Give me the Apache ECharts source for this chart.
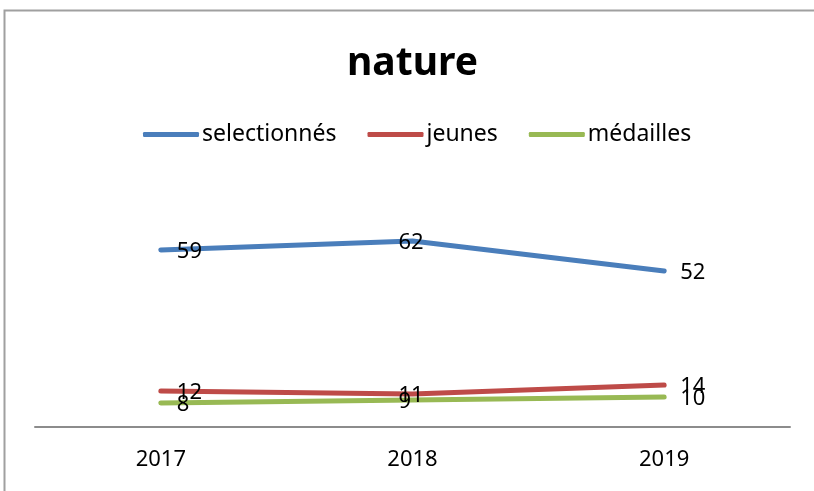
<!DOCTYPE html>
<html>
<head>
<meta charset="utf-8">
<script src="https://cdn.jsdelivr.net/npm/echarts@6/dist/echarts.min.js"></script>
<style>
  html, body { margin: 0; padding: 0; background: #ffffff; }
  #chart { width: 814px; height: 491px; }
</style>
</head>
<body>
<div id="chart"></div>
<script>
// Yearly counts for the "nature" category
const years = ['2017', '2018', '2019'];
const selectionnes = [59, 62, 52];
const jeunes = [12, 11, 14];
const medailles = [8, 9, 10];

const FONT = '"Noto Sans", "Open Sans", sans-serif';

// Horizontal nudge of each value label relative to its point (left-aligned text)
const labelDx = [16, -14, 16];

function withLabels(values) {
  return values.map((v, i) => ({
    value: v,
    label: { offset: [labelDx[i], 2] }
  }));
}

function lineSeries(name, values, color) {
  return {
    name: name,
    type: 'line',
    data: withLabels(values),
    symbol: 'circle',
    symbolSize: 4,
    showSymbol: true,
    itemStyle: { color: color },
    lineStyle: { color: color, width: 5, cap: 'round', join: 'round' },
    emphasis: { disabled: true },
    label: {
      show: true,
      position: 'inside',
      align: 'left',
      verticalAlign: 'middle',
      color: '#000000',
      fontFamily: FONT,
      fontSize: 22
    },
    z: 2
  };
}

const chart = echarts.init(document.getElementById('chart'), null, { renderer: 'canvas' });

chart.setOption({
  animation: false,
  backgroundColor: '#ffffff',
  title: {
    text: 'nature',
    left: 342,
    top: 39,
    textStyle: { fontFamily: FONT, fontWeight: 'bold', fontSize: 39, color: '#000000' }
  },
  legend: {
    top: 117,
    left: 138,
    itemWidth: 56,
    itemHeight: 5,
    itemGap: 31,
    icon: 'roundRect',
    textStyle: { fontFamily: FONT, fontSize: 23, color: '#000000', lineHeight: 25, padding: [0, 0, 0, -2] },
    data: ['selectionnés', 'jeunes', 'médailles']
  },
  grid: { left: 35, right: 24, top: 157, bottom: 64 },
  xAxis: {
    type: 'category',
    data: years,
    boundaryGap: true,
    axisLine: { show: true, lineStyle: { color: '#8c8c8c', width: 2 } },
    axisTick: { show: false },
    axisLabel: { fontFamily: FONT, fontSize: 22, color: '#000000', margin: 22 },
    splitLine: { show: false }
  },
  yAxis: {
    type: 'value',
    min: 0,
    max: 90,
    show: false,
    splitLine: { show: false }
  },
  graphic: [{
    type: 'rect',
    shape: { x: 4.5, y: 10.5, width: 900, height: 600 },
    style: { fill: 'none', stroke: '#a0a0a0', lineWidth: 2 },
    silent: true
  }],
  series: [
    lineSeries('selectionnés', selectionnes, '#4A7EBB'),
    lineSeries('jeunes', jeunes, '#BE4B48'),
    lineSeries('médailles', medailles, '#98B954')
  ]
});
</script>
</body>
</html>
